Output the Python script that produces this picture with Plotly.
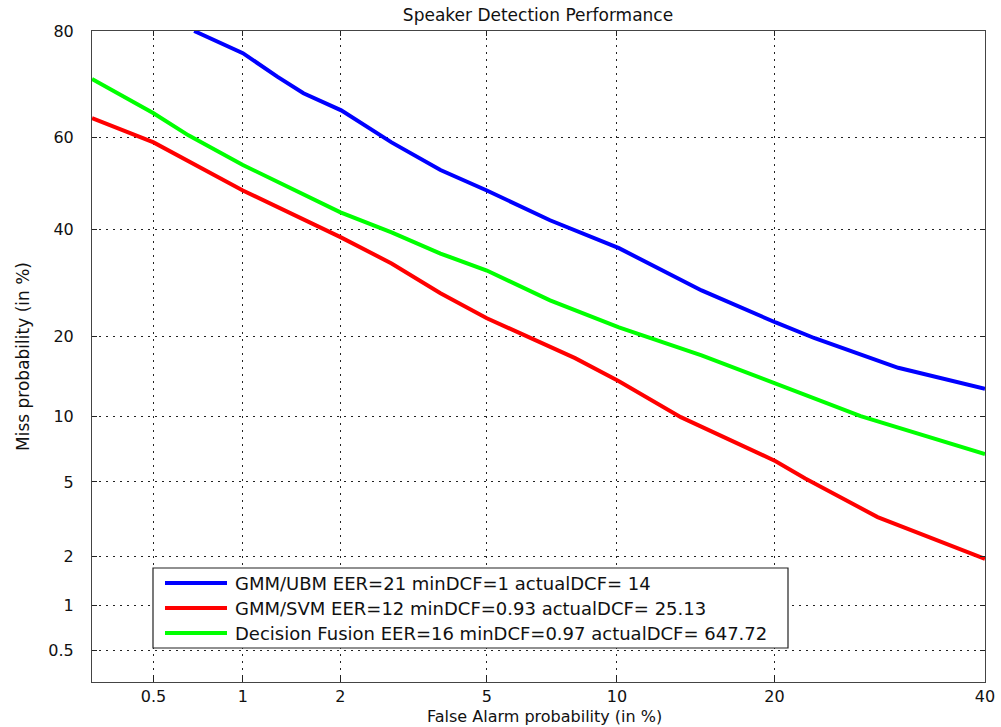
from statistics import NormalDist
import plotly.graph_objects as go

# DET curves: false-alarm and miss probabilities in percent
ubm_fa = [0.69, 0.87, 1.0, 1.29, 1.55, 2.01, 2.8, 3.8, 5.0, 7.1, 10.1, 14.8, 20.1, 23.3, 31.0, 40.0]
ubm_miss = [80.0, 77.8, 76.4, 72.2, 69.1, 65.7, 59.0, 53.0, 48.5, 42.0, 36.1, 27.8, 22.2, 19.7, 15.5, 12.9]

svm_fa = [0.30, 0.5, 1.0, 2.0, 2.8, 3.8, 5.0, 8.1, 10.1, 13.5, 20.1, 22.5, 29.0, 34.7, 40.0]
svm_miss = [64.1, 59.0, 48.5, 38.4, 33.0, 27.3, 22.9, 16.8, 13.8, 9.9, 6.3, 5.2, 3.3, 2.5, 1.93]

fus_fa = [0.30, 0.5, 0.66, 1.0, 2.0, 2.8, 3.8, 5.0, 7.1, 10.1, 14.8, 20.1, 27.4, 40.0]
fus_miss = [71.8, 65.1, 60.5, 54.1, 43.7, 39.4, 35.0, 31.6, 26.0, 21.4, 17.2, 13.5, 10.0, 6.8]

series_names = [
    "GMM/UBM EER=21 minDCF=1 actualDCF= 14",
    "GMM/SVM EER=12 minDCF=0.93 actualDCF= 25.13",
    "Decision Fusion EER=16 minDCF=0.97 actualDCF= 647.72",
]
series_colors = ["#0000ff", "#ff0000", "#00ff00"]

x_ticks = [0.5, 1, 2, 5, 10, 20, 40]
y_ticks = [0.5, 1, 2, 5, 10, 20, 40, 60, 80]
x_limits = [0.3, 40]
y_limits = [0.3, 80]

nd = NormalDist()


def probit(pct):
    return [nd.inv_cdf(v / 100.0) for v in pct]


def tick_text(vals):
    return [("%g" % v) for v in vals]


FONT = "DejaVu Sans"
W, H = 1001, 727
ML, MR, MT, MB = 92, 16, 31, 45
PW, PH = W - ML - MR, H - MT - MB

fig = go.Figure()
for fa, miss, name, col in zip(
    [ubm_fa, svm_fa, fus_fa],
    [ubm_miss, svm_miss, fus_miss],
    series_names,
    series_colors,
):
    fig.add_trace(go.Scatter(
        x=probit(fa), y=probit(miss), mode="lines", name=name,
        line=dict(color=col, width=4), showlegend=False,
    ))

axis_common = dict(
    showgrid=True, gridcolor="#222222", gridwidth=1, griddash="2px,5px",
    showline=True, linecolor="#444444", linewidth=1, mirror="ticks",
    ticks="inside", ticklen=5, tickcolor="#222222", zeroline=False,
    automargin=False,
    tickfont=dict(family=FONT, size=16, color="#111111"),
)

fig.update_xaxes(
    range=probit(x_limits), tickmode="array", tickvals=probit(x_ticks),
    ticktext=tick_text(x_ticks), ticklabelstandoff=0,
    **axis_common,
)
fig.update_yaxes(
    range=probit(y_limits), tickmode="array", tickvals=probit(y_ticks),
    ticktext=tick_text(y_ticks), ticklabelstandoff=14,
    title=dict(text="Miss probability (in %)", standoff=14,
               font=dict(family=FONT, size=17, color="#111111")),
    **axis_common,
)


def px_x(p):
    return (p - ML) / PW


def px_y(p):
    return (H - MB - p) / PH


# x-axis title placed just under the tick labels
fig.add_annotation(xref="paper", yref="paper", x=px_x(544), y=px_y(716),
                   xanchor="center", yanchor="middle", showarrow=False,
                   text="False Alarm probability (in %)",
                   font=dict(family=FONT, size=16, color="#111111"))

# boxed legend with long line samples
box_l, box_r, box_t, box_b = 153, 788, 568, 648
fig.add_shape(type="rect", xref="paper", yref="paper",
              x0=px_x(box_l), x1=px_x(box_r), y0=px_y(box_b), y1=px_y(box_t),
              line=dict(color="#222222", width=1.2), fillcolor="white", layer="above")
row_y = [583, 608, 633]
for name, col, ry in zip(series_names, series_colors, row_y):
    fig.add_shape(type="line", xref="paper", yref="paper",
                  x0=px_x(165), x1=px_x(227), y0=px_y(ry), y1=px_y(ry),
                  line=dict(color=col, width=4), layer="above")
    fig.add_annotation(xref="paper", yref="paper", x=px_x(233), y=px_y(ry),
                       xanchor="left", yanchor="middle", showarrow=False,
                       text=name, font=dict(family=FONT, size=18, color="#111111"))

fig.update_layout(
    width=W, height=H,
    margin=dict(l=ML, r=MR, t=MT, b=MB),
    paper_bgcolor="white", plot_bgcolor="white",
    title=dict(text="Speaker Detection Performance", x=538 / W,
               xanchor="center", y=1 - 15 / H, yanchor="middle",
               font=dict(family=FONT, size=17, color="#111111")),
)

fig.write_html("out.html")
